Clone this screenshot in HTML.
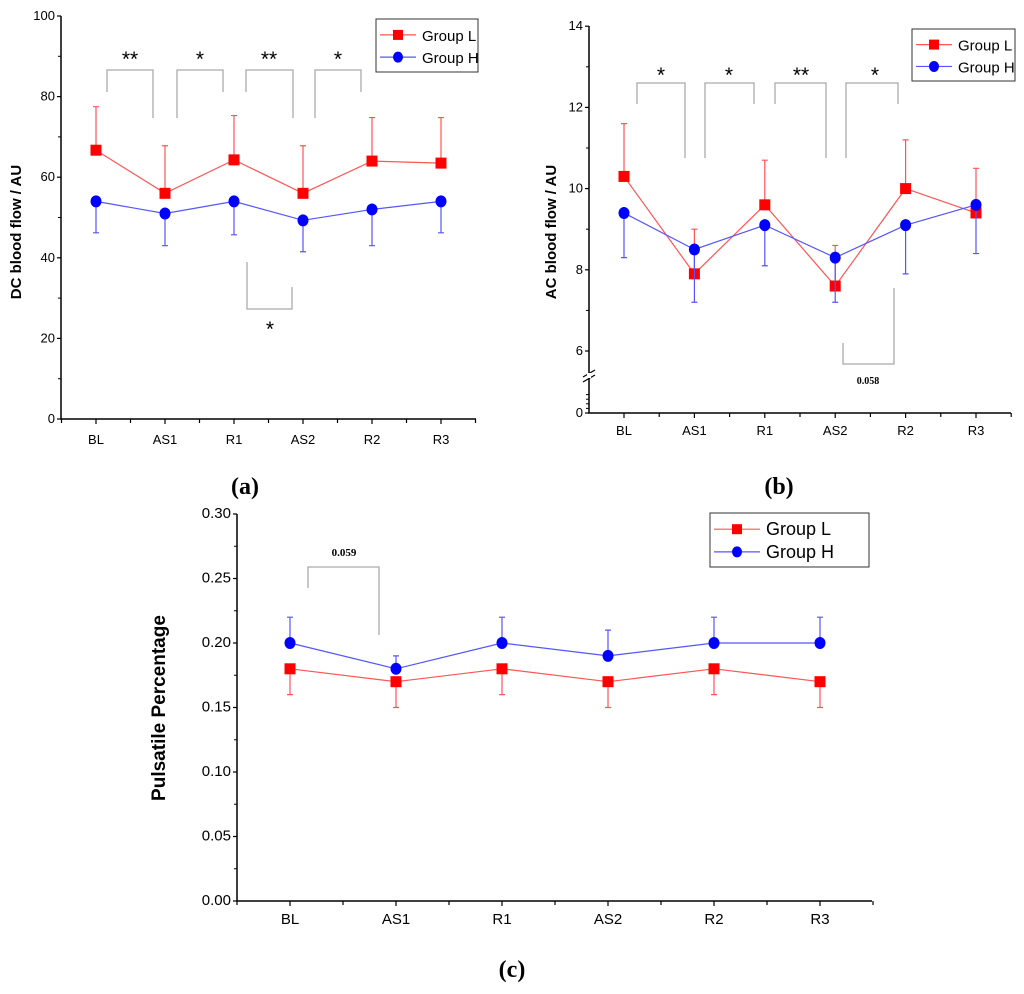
<!DOCTYPE html>
<html><head><meta charset="utf-8"><style>
body{margin:0;background:#fff}
</style></head><body>
<svg id="fig" width="1024" height="989" viewBox="0 0 1024 989" xmlns="http://www.w3.org/2000/svg" font-family="Liberation Sans, sans-serif"></svg>
<script>
const categories=["BL","AS1","R1","AS2","R2","R3"];
const aL=[66.7,56,64.3,56,64,63.5];
const aLerr=[10.8,11.8,11,11.8,10.8,11.3];
const aH=[54,51,54,49.3,52,54];
const aHerr=[7.8,8,8.3,7.8,9,7.8];
const aTicks=[0,20,40,60,80,100];
const bL=[10.3,7.9,9.6,7.6,10,9.4];
const bLerr=[1.3,1.1,1.1,1.0,1.2,1.1];
const bH=[9.4,8.5,9.1,8.3,9.1,9.6];
const bHerr=[1.1,1.3,1.0,1.1,1.2,1.2];
const bTicks=[0,6,8,10,12,14];
const cL=[0.18,0.17,0.18,0.17,0.18,0.17];
const cLerr=[0.02,0.02,0.02,0.02,0.02,0.02];
const cH=[0.20,0.18,0.20,0.19,0.20,0.20];
const cHerr=[0.02,0.01,0.02,0.02,0.02,0.02];
const cTicks=[0,0.05,0.10,0.15,0.20,0.25,0.30];

const svg=document.getElementById('fig');
const NS='http://www.w3.org/2000/svg';
function el(tag,attrs,parent,txt){const e=document.createElementNS(NS,tag);for(const k in attrs)e.setAttribute(k,attrs[k]);if(txt!==undefined)e.textContent=txt;(parent||svg).appendChild(e);return e;}

function panel(cfg){
  const g=el('g',{});
  
  
  const X=i=>cfg.x0+cfg.dx*i;
  const Y=cfg.Y;
  const ax=el('path',{d:`M${cfg.axL},${cfg.yTop} V${cfg.yBot} H${cfg.axR}`,stroke:'#000','stroke-width':1.5,fill:'none'},g);
  
  
  cfg.ticks.forEach(t=>{
    const y=Y(t);
    el('line',{x1:cfg.axL-4,x2:cfg.axL,y1:y,y2:y,stroke:'#000','stroke-width':1.2},g);
    const lb=el('text',{x:cfg.axL-6,y:y+4,'text-anchor':'end','font-size':cfg.fs,fill:'#000'},g,cfg.fmt(t));
    
    
  });
  cfg.minor.forEach(v=>{const y=Y(v);el('line',{x1:cfg.axL-3,x2:cfg.axL,y1:y,y2:y,stroke:'#000','stroke-width':1},g);});
  for(let i=-0.5;i<=6;i+=0.5){const x=X(i);if(x<cfg.axL||x>cfg.axR+1)continue;el('line',{x1:x,x2:x,y1:cfg.yBot,y2:cfg.yBot+(Number.isInteger(i)?5:4),stroke:'#000','stroke-width':1.2},g);}
  categories.forEach((c,i)=>{
    const t=el('text',{x:X(i),y:cfg.yBot+cfg.labOff,'text-anchor':'middle','font-size':cfg.fs,fill:'#000'},g,c);
    
    
  });
  const yt=el('text',{x:0,y:0,transform:`translate(${cfg.ytx},${cfg.yty}) rotate(-90)`,'text-anchor':'middle','font-size':cfg.tfs,'font-weight':'bold',fill:'#000'},g,cfg.ytitle);
  
  
  cfg.brackets.forEach(b=>{
    const p=el('path',{d:b.d,stroke:'#aaa','stroke-width':1.3,fill:'none'},g);
    
    
    const t=el('text',{x:b.tx,y:b.ty,'text-anchor':'middle','font-size':b.fs||21,fill:'#000','font-family':b.serif?'Liberation Serif, serif':'Liberation Sans, sans-serif','font-weight':b.serif?'bold':'normal'},g,b.t);
    
    
  });
  const series=[{v:cfg.L,e:cfg.Le,col:'#ff0000',line:'#ff5555',up:cfg.lUp,sq:true,n:'group-l'},{v:cfg.H,e:cfg.He,col:'#0000ff',line:'#5555ff',up:cfg.hUp,sq:false,n:'group-h'}];
  series.forEach(s=>{
    s.v.forEach((v,i)=>{
      const x=X(i),y=Y(v),ye=Y(s.up?v+s.e[i]:v-s.e[i]);
      const eb=el('path',{d:`M${x},${y} V${ye} M${x-3},${ye} H${x+3}`,stroke:s.line,'stroke-width':1.2,fill:'none'},g);
      
      
    });
    const pl=el('polyline',{points:s.v.map((v,i)=>X(i)+','+Y(v)).join(' '),stroke:s.line,'stroke-width':1.2,fill:'none'},g);
    
    
    s.v.forEach((v,i)=>{
      const x=X(i),y=Y(v);let m;
      if(s.sq)m=el('rect',{x:x-5.5,y:y-5.5,width:11,height:11,fill:s.col},g);
      else m=el('ellipse',{cx:x,cy:y,rx:5.5,ry:6,fill:s.col},g);
      
      
    });
  });
  const L=cfg.leg;
  const lg=el('g',{},g);
  
  
  el('rect',{x:L.x,y:L.y,width:L.w,height:L.h,fill:'#fff',stroke:'#333','stroke-width':1},lg);
  [[0,'#ff0000','#ff5555','Group L',true],[1,'#0000ff','#5555ff','Group H',false]].forEach(r=>{
    const yy=L.y+L.h*(r[0]?0.72:0.3);
    const e=el('g',{},lg);
    
    
    el('line',{x1:L.x+4,x2:L.x+L.lw,y1:yy,y2:yy,stroke:r[2],'stroke-width':1.2},e);
    const mx=L.x+4+(L.lw-4)/2;
    if(r[4])el('rect',{x:mx-5,y:yy-5,width:10,height:10,fill:r[1]},e);else el('ellipse',{cx:mx,cy:yy,rx:5,ry:5.5,fill:r[1]},e);
    el('text',{x:L.x+L.lw+6,y:yy+6,'font-size':L.fs,fill:'#000'},e,r[3]);
  });
}

panel({name:'panel-a',x0:96,dx:69,axL:61,axR:476,yTop:16,yBot:419,Y:v=>419-v*4.03,ticks:aTicks,fmt:t=>String(t),
  minor:[10,30,50,70,90],fs:13,labOff:25,tfs:15,ytx:21,yty:232,ytitle:'DC blood flow / AU',
  L:aL,Le:aLerr,H:aH,He:aHerr,lUp:true,hUp:false,
  brackets:[
    {d:'M107,92 V70 H153 V118',t:'**',tx:130,ty:66},
    {d:'M177,118 V70 H223 V92',t:'*',tx:200,ty:66},
    {d:'M246,92 V70 H293 V118',t:'**',tx:269,ty:66},
    {d:'M315,118 V70 H361 V92',t:'*',tx:338,ty:66},
    {d:'M247,262 V309 H292 V287',t:'*',tx:270,ty:336}],
  leg:{x:376,y:19,w:102,h:53,lw:40,fs:15}});
panel({name:'panel-b',x0:624,dx:70.4,axL:589,axR:1011,yTop:26,yBot:413,
  Y:v=>v>=6?351-(v-6)*40.6:413-v*(413-390)/5,ticks:bTicks,fmt:t=>String(t),
  minor:[7,9,11,13,1,2,3,4],fs:13,labOff:22,tfs:15,ytx:556,yty:232,ytitle:'AC blood flow / AU',
  L:bL,Le:bLerr,H:bH,He:bHerr,lUp:true,hUp:false,
  brackets:[
    {d:'M637,104 V83 H685 V158',t:'*',tx:661,ty:82},
    {d:'M705,158 V83 H754 V104',t:'*',tx:729,ty:82},
    {d:'M775,104 V83 H826 V158',t:'**',tx:801,ty:82},
    {d:'M846,158 V83 H898 V104',t:'*',tx:875,ty:82},
    {d:'M843,343 V364 H894 V288',t:'0.058',tx:868,ty:384,fs:10,serif:true}],
  leg:{x:912,y:29,w:103,h:52,lw:40,fs:15}});
el('path',{d:'M583,377 L595,370 M583,382 L595,375',stroke:'#000','stroke-width':1.2});
el('rect',{x:587,y:373,width:4,height:5,fill:'#fff'});
panel({name:'panel-c',x0:290,dx:106,axL:237,axR:872,yTop:514,yBot:901,Y:v=>901-v*1290,ticks:cTicks,fmt:t=>t.toFixed(2),
  minor:[0.025,0.075,0.125,0.175,0.225,0.275],fs:15,labOff:23,tfs:19,ytx:165,yty:708,ytitle:'Pulsatile Percentage',
  L:cL,Le:cLerr,H:cH,He:cHerr,lUp:false,hUp:true,
  brackets:[{d:'M308,588 V567 H379 V635',t:'0.059',tx:344,ty:556,fs:11,serif:true}],
  leg:{x:710,y:513,w:159,h:54,lw:50,fs:18}});
[['(a)',245,494,'label-a'],['(b)',779,494,'label-b'],['(c)',512,977,'label-c']].forEach(l=>{
  const t=el('text',{x:l[1],y:l[2],'text-anchor':'middle','font-size':24,'font-weight':'bold','font-family':'Liberation Serif, serif',fill:'#000'},svg,l[0]);
  
  
});
</script>
</body></html>
